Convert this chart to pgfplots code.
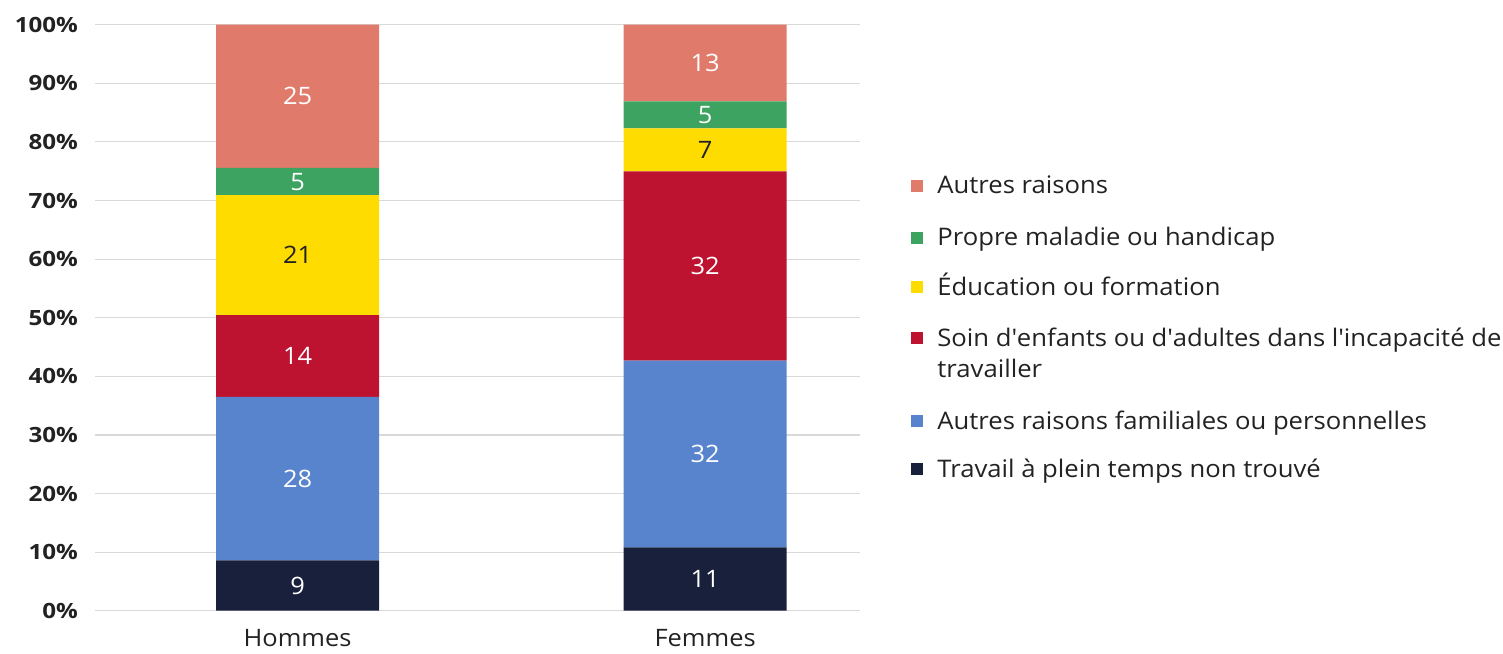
\documentclass[border=0pt]{standalone}
\usepackage{pgfplots}
\pgfplotsset{compat=1.18}
\usepackage{fontspec}
\setmainfont[FakeStretch=1.06]{Open Sans}
\newfontfamily\tickfont[FakeStretch=1.15]{Open Sans}

\definecolor{cAutres}{HTML}{E07A6A}
\definecolor{cMaladie}{HTML}{3CA360}
\definecolor{cEduc}{HTML}{FEDC00}
\definecolor{cSoin}{HTML}{BD1230}
\definecolor{cFamil}{HTML}{5784CD}
\definecolor{cTravail}{HTML}{18203C}
\definecolor{cText}{HTML}{222222}

% legend row: colour, y of swatch centre (pt), text
\newcommand\legrow[3]{%
  \fill[#1] (408pt,#2pt-3pt) rectangle ++(6pt,6pt);
  \node[anchor=base west, inner sep=0pt, text=cText,
        font=\fontsize{12.1}{15.5}\selectfont] at (421pt,#2pt-4pt) {#3};}

\begin{document}
\begin{tikzpicture}
\begin{axis}[
  at={(0,0)}, anchor=south west,
  scale only axis, width=382.5pt, height=293pt,
  ybar stacked, bar width=81.5pt,
  xmin=-0.497, xmax=1.380, ymin=0, ymax=100,
  xtick={0,1}, xticklabels={Hommes,Femmes},
  ytick={0,10,...,100},
  yticklabel={\pgfmathprintnumber{\tick}\%},
  /pgf/number format/assume math mode=true,
  axis line style={draw=none},
  major tick length=0pt,
  ymajorgrids, major grid style={draw=black!15, line width=0.6pt},
  yticklabel style={font=\tickfont\fontsize{10.5}{12}\selectfont\bfseries, text=cText, xshift=-5pt},
  xticklabel style={font=\fontsize{12}{14}\selectfont, text=cText, yshift=-6pt},
  point meta=explicit symbolic,
  nodes near coords,
  every node near coord/.append style={anchor=center, font=\fontsize{12}{14}\selectfont, text=white},
]
% Travail a plein temps non trouve
\addplot[fill=cTravail, draw=none] coordinates {(0,8.60) [9] (1,10.82) [11]};
% Autres raisons familiales ou personnelles
\addplot[fill=cFamil, draw=none] coordinates {(0,27.87) [28] (1,31.84) [32]};
% Soin d'enfants ou d'adultes
\addplot[fill=cSoin, draw=none] coordinates {(0,13.99) [14] (1,32.32) [32]};
% Education ou formation
\addplot[fill=cEduc, draw=none, every node near coord/.append style={text=cText}] coordinates {(0,20.44) [21] (1,7.34) [7]};
% Propre maladie ou handicap
\addplot[fill=cMaladie, draw=none] coordinates {(0,4.65) [5] (1,4.61) [5]};
% Autres raisons
\addplot[fill=cAutres, draw=none] coordinates {(0,24.45) [25] (1,13.07) [13]};
\end{axis}
% legend
\legrow{cAutres}{212.35}{Autres raisons}
\legrow{cMaladie}{186.35}{Propre maladie ou handicap}
\legrow{cEduc}{161.85}{Éducation ou formation}
\legrow{cSoin}{136.35}{\begin{tabular}[t]{@{}l@{}}Soin d\textquotesingle enfants ou d\textquotesingle adultes dans l\textquotesingle incapacité de\\travailler\end{tabular}}
\legrow{cFamil}{94.85}{Autres raisons familiales ou personnelles}
\legrow{cTravail}{70.85}{Travail à plein temps non trouvé}
\path (-47.5pt,-19.65pt) rectangle (704pt,305.35pt);
\end{tikzpicture}
\end{document}
